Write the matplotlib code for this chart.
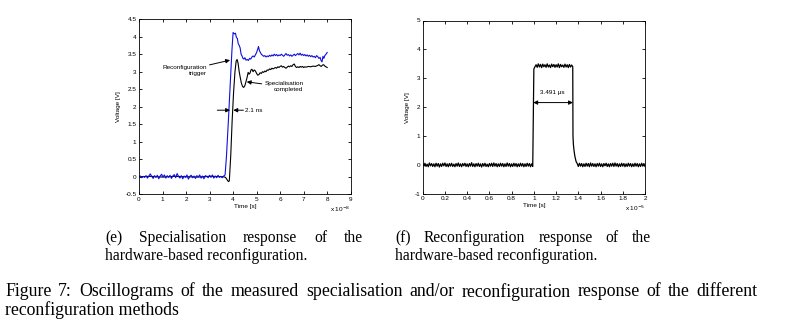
import numpy as np
import matplotlib
matplotlib.use("Agg")
import matplotlib.pyplot as plt

# ---------------- data: left panel (e) ----------------
blue_base_t = np.round(np.arange(0, 3.63, 0.06), 3)
blue_base_v = [0.00, 0.02, -0.03, 0.01, -0.02, 0.03, -0.04, 0.02, 0.08, 0.01,
               -0.05, 0.03, -0.02, 0.04, -0.06, 0.02, 0.07, -0.01, 0.05, -0.04,
               0.03, -0.02, 0.04, -0.05, 0.02, 0.06, -0.03, 0.09, 0.01, -0.04,
               0.03, -0.06, 0.02, -0.02, 0.05, -0.07, 0.01, 0.04, -0.03, 0.02,
               -0.05, 0.03, -0.01, 0.05, -0.04, 0.02, -0.06, 0.03, 0.01, -0.03,
               0.04, -0.02, 0.05, -0.04, 0.02, -0.03, 0.04, -0.02, 0.01, -0.03, 0.02]
blue_rest = [(3.66, 0.05), (3.72, 0.6), (3.8, 1.6), (3.88, 2.7), (3.95, 3.6), (4.0, 4.12),
             (4.05, 4.08), (4.1, 4.1), (4.14, 3.98), (4.18, 3.95), (4.22, 3.8), (4.26, 3.75),
             (4.3, 3.68), (4.34, 3.5), (4.38, 3.45), (4.42, 3.38), (4.46, 3.36), (4.5, 3.4),
             (4.55, 3.33), (4.6, 3.35), (4.65, 3.32), (4.7, 3.38), (4.75, 3.36), (4.8, 3.42),
             (4.85, 3.45), (4.9, 3.42), (4.95, 3.48), (5.0, 3.55), (5.05, 3.65), (5.08, 3.72),
             (5.12, 3.6), (5.16, 3.55), (5.2, 3.5), (5.25, 3.47), (5.3, 3.44), (5.35, 3.46),
             (5.4, 3.42), (5.45, 3.45), (5.5, 3.43), (5.55, 3.47), (5.6, 3.44), (5.65, 3.48),
             (5.7, 3.45), (5.75, 3.5), (5.8, 3.46), (5.85, 3.49), (5.9, 3.45), (5.95, 3.48),
             (6.0, 3.46), (6.05, 3.5), (6.1, 3.47), (6.15, 3.44), (6.2, 3.48), (6.25, 3.52),
             (6.3, 3.47), (6.35, 3.49), (6.4, 3.45), (6.45, 3.48), (6.5, 3.44), (6.55, 3.47),
             (6.6, 3.5), (6.65, 3.46), (6.7, 3.49), (6.75, 3.52), (6.8, 3.48), (6.85, 3.53),
             (6.9, 3.47), (6.95, 3.5), (7.0, 3.46), (7.05, 3.49), (7.1, 3.45), (7.15, 3.48),
             (7.2, 3.44), (7.25, 3.47), (7.3, 3.43), (7.35, 3.46), (7.4, 3.42), (7.45, 3.44),
             (7.5, 3.4), (7.55, 3.46), (7.6, 3.43), (7.65, 3.38), (7.7, 3.41), (7.74, 3.32),
             (7.78, 3.28), (7.82, 3.44), (7.86, 3.38), (7.9, 3.46), (7.95, 3.5), (8.0, 3.55)]

black_pts = [(0.0, 0.0), (0.5, 0.01), (1.0, -0.01), (1.5, 0.01), (2.0, 0.0), (2.5, -0.01),
             (3.0, 0.01), (3.6, 0.0), (3.68, -0.02), (3.74, -0.08), (3.8, -0.14), (3.84, -0.12),
             (3.9, 0.6), (3.96, 1.6), (4.02, 2.4), (4.08, 3.0), (4.13, 3.3), (4.17, 3.35),
             (4.21, 3.25), (4.26, 3.0), (4.3, 2.85), (4.35, 2.68), (4.4, 2.58), (4.45, 2.55),
             (4.5, 2.6), (4.55, 2.72), (4.6, 2.85), (4.64, 2.98), (4.68, 2.93), (4.72, 2.96),
             (4.76, 3.05), (4.8, 3.07), (4.85, 3.0), (4.9, 3.05), (4.95, 3.02), (5.0, 2.95),
             (5.05, 2.9), (5.1, 2.92), (5.15, 2.97), (5.2, 2.95), (5.25, 3.0), (5.3, 2.98),
             (5.35, 3.02), (5.4, 3.0), (5.45, 3.05), (5.5, 3.04), (5.55, 3.08), (5.6, 3.06),
             (5.65, 3.1), (5.7, 3.08), (5.75, 3.1), (5.8, 3.12), (5.85, 3.1), (5.9, 3.14),
             (5.95, 3.12), (6.0, 3.15), (6.05, 3.17), (6.1, 3.13), (6.15, 3.15), (6.2, 3.12),
             (6.25, 3.1), (6.3, 3.13), (6.35, 3.16), (6.4, 3.14), (6.45, 3.17), (6.5, 3.15),
             (6.55, 3.2), (6.6, 3.22), (6.65, 3.15), (6.7, 3.12), (6.75, 3.14), (6.8, 3.12),
             (6.85, 3.15), (6.9, 3.13), (6.95, 3.15), (7.0, 3.12), (7.05, 3.14), (7.1, 3.13),
             (7.2, 3.15), (7.3, 3.14), (7.4, 3.16), (7.5, 3.15), (7.6, 3.18), (7.65, 3.2),
             (7.7, 3.17), (7.75, 3.15), (7.8, 3.19), (7.85, 3.2), (7.9, 3.16), (7.95, 3.14),
             (8.0, 3.12)]

left_xticks = [0, 1, 2, 3, 4, 5, 6, 7, 8, 9]
left_yticks = [-0.5, 0, 0.5, 1, 1.5, 2, 2.5, 3, 3.5, 4, 4.5]
left_yticklabels = ['-0.5', '0', '0.5', '1', '1.5', '2', '2.5', '3', '3.5', '4', '4.5']

# ---------------- data: right panel (f) ----------------
r_base1_t = np.round(np.arange(0, 1.0, 0.01), 3)
r_base1_v = [0.05, -0.04, 0.06, -0.05, 0.03, -0.06, 0.07, -0.03, 0.05, -0.05,
             0.04, -0.06, 0.06, -0.04, 0.05, -0.07, 0.04, -0.05, 0.06, -0.03,
             0.07, -0.05, 0.04, -0.06, 0.05, -0.04, 0.06, -0.05, 0.03, -0.06,
             0.05, -0.04, 0.07, -0.05, 0.04, -0.06, 0.05, -0.03, 0.06, -0.05,
             0.04, -0.06, 0.05, -0.04, 0.08, -0.05, 0.04, -0.06, 0.05, -0.04,
             0.06, -0.05, 0.04, -0.07, 0.05, -0.04, 0.06, -0.05, 0.03, -0.06,
             0.05, -0.04, 0.06, -0.05, 0.07, -0.04, 0.05, -0.06, 0.04, -0.05,
             0.06, -0.04, 0.05, -0.06, 0.04, -0.05, 0.07, -0.04, 0.05, -0.06,
             0.04, -0.05, 0.06, -0.04, 0.05, -0.06, 0.04, -0.05, 0.06, -0.04,
             0.05, -0.06, 0.04, -0.05, 0.06, -0.04, 0.05, -0.06, 0.04, -0.05]
r_top_t = np.round(np.arange(1.0, 1.355, 0.01), 3)
r_top_v = [3.32, 3.40, 3.47, 3.38, 3.50, 3.39, 3.48, 3.37, 3.49, 3.40,
           3.47, 3.38, 3.50, 3.39, 3.46, 3.37, 3.49, 3.40, 3.48, 3.38,
           3.47, 3.39, 3.50, 3.37, 3.48, 3.40, 3.46, 3.38, 3.49, 3.39,
           3.47, 3.37, 3.48, 3.39, 3.46, 3.40]
r_tail = [(1.352, 1.0), (1.356, 0.7), (1.361, 0.52), (1.367, 0.35), (1.372, 0.25),
          (1.38, 0.12), (1.39, 0.05)]
r_base2_t = np.round(np.arange(1.40, 2.005, 0.01), 3)
r_base2_v = [-0.05, 0.06, -0.04, 0.05, -0.06, 0.04, -0.05, 0.06, -0.04, 0.05,
             -0.06, 0.07, -0.04, 0.05, -0.05, 0.04, -0.06, 0.05, -0.04, 0.06,
             -0.05, 0.04, -0.06, 0.05, -0.03, 0.06, -0.05, 0.04, -0.06, 0.05,
             -0.04, 0.06, -0.05, 0.07, -0.04, 0.05, -0.06, 0.04, -0.05, 0.06,
             -0.04, 0.05, -0.06, 0.04, -0.05, 0.06, -0.04, 0.05, -0.06, 0.04,
             -0.05, 0.06, -0.04, 0.05, -0.06, 0.04, -0.05, 0.06, -0.04, 0.05, -0.05]

right_xticks = [0, 0.2, 0.4, 0.6, 0.8, 1, 1.2, 1.4, 1.6, 1.8, 2]
right_xticklabels = ['0', '0.2', '0.4', '0.6', '0.8', '1', '1.2', '1.4', '1.6', '1.8', '2']
right_yticks = [-1, 0, 1, 2, 3, 4, 5]
right_yticklabels = ['-1', '0', '1', '2', '3', '4', '5']

# ---------------- figure ----------------
W, H = 793, 323
fig = plt.figure(figsize=(W / 100, H / 100), dpi=100)
fig.patch.set_facecolor('white')

SANS = ['Liberation Sans', 'DejaVu Sans']
SERIF = ['Liberation Serif', 'DejaVu Serif']
TFS = 4.6


def px_rect(l, t, r, b):
    return [l / W, 1 - b / H, (r - l) / W, (b - t) / H]


def style_axes(ax):
    ax.tick_params(direction='in', length=2.5, width=0.6, top=True, right=True,
                   labelsize=TFS, pad=1.8)
    for s in ax.spines.values():
        s.set_linewidth(0.6)
    for lab in ax.get_xticklabels() + ax.get_yticklabels():
        lab.set_family(SANS)


# left axes
axL = fig.add_axes(px_rect(139, 19.2, 350.7, 194.2))
bt = [p[0] for p in black_pts]
bv = [p[1] for p in black_pts]
axL.plot(bt, bv, color='black', lw=0.8)
blue_t = list(blue_base_t) + [p[0] for p in blue_rest]
blue_v = list(blue_base_v) + [p[1] for p in blue_rest]
axL.plot(blue_t, blue_v, color='#1010e0', lw=0.8)
axL.set_xlim(0, 9)
axL.set_ylim(-0.5, 4.5)
axL.set_xticks(left_xticks)
axL.set_yticks(left_yticks)
axL.set_yticklabels(left_yticklabels)
axL.set_xlabel('Time [s]', fontsize=TFS, family=SANS, labelpad=1.5)
axL.set_ylabel('Voltage [V]', fontsize=TFS, family=SANS, labelpad=3)
style_axes(axL)
axL.text(1.0, -0.058, r'x 10$^{-8}$', transform=axL.transAxes, ha='right', va='top',
         fontsize=TFS, family=SANS)

ap = dict(arrowstyle='-|>', color='black', lw=0.7, mutation_scale=6, shrinkA=0, shrinkB=0)
axL.annotate('Reconfiguration\ntrigger', xy=(3.87, 3.33), xytext=(2.88, 3.03),
             ha='right', va='center', multialignment='right', fontsize=TFS, family=SANS,
             arrowprops=ap, linespacing=1.2)
axL.annotate('Specialisation\ncompleted', xy=(4.58, 2.71), xytext=(5.33, 2.57),
             ha='left', va='center', multialignment='right', fontsize=TFS, family=SANS,
             arrowprops=ap, linespacing=1.2)
axL.annotate('', xy=(3.87, 1.9), xytext=(3.33, 1.9), arrowprops=ap)
axL.annotate('', xy=(4.01, 1.9), xytext=(4.44, 1.9), arrowprops=ap)
axL.text(4.52, 1.9, '2.1 ns', ha='left', va='center', fontsize=TFS, family=SANS)

# right axes
axR = fig.add_axes(px_rect(422.7, 20.5, 645, 193.9))
rt = list(r_base1_t) + list(r_top_t) + [p[0] for p in r_tail] + list(r_base2_t)
rv = list(r_base1_v) + list(r_top_v) + [p[1] for p in r_tail] + list(r_base2_v)
axR.plot(rt, rv, color='black', lw=0.9)
axR.set_xlim(0, 2)
axR.set_ylim(-1, 5)
axR.set_xticks(right_xticks)
axR.set_xticklabels(right_xticklabels)
axR.set_yticks(right_yticks)
axR.set_yticklabels(right_yticklabels)
axR.set_xlabel('Time [s]', fontsize=TFS, family=SANS, labelpad=1.5)
axR.set_ylabel('Voltage [V]', fontsize=TFS, family=SANS, labelpad=3)
style_axes(axR)
axR.text(1.0, -0.058, r'x 10$^{-5}$', transform=axR.transAxes, ha='right', va='top',
         fontsize=TFS, family=SANS)
ap2 = dict(arrowstyle='<|-|>', color='black', lw=0.7, mutation_scale=6, shrinkA=0, shrinkB=0)
axR.annotate('', xy=(0.995, 2.16), xytext=(1.352, 2.16), arrowprops=ap2)
axR.text(1.165, 2.5, '3.491 μs', ha='center', va='center', fontsize=TFS, family=SANS)

# ---------------- captions ----------------
renderer = fig.canvas.get_renderer()


def justify(words, x0, x1, y, fs):
    objs = [fig.text(0, 1 - y / H, w, fontsize=fs, family=SERIF, va='center', ha='left')
            for w in words]
    widths = [o.get_window_extent(renderer).width for o in objs]
    gap = (x1 - x0 - sum(widths)) / (len(words) - 1)
    x = x0
    for o, wd in zip(objs, widths):
        o.set_x(x / W)
        x += wd + gap


def ftext(x, y, s, fs):
    fig.text(x / W, 1 - y / H, s, fontsize=fs, family=SERIF, va='center', ha='left')


CFS = 11.2
FFS = 12.8
justify(['(e)', 'Specialisation', 'response', 'of', 'the'], 105, 363, 238, CFS)
ftext(105, 256, 'hardware-based reconfiguration.', CFS)
justify(['(f)', 'Reconfiguration', 'response', 'of', 'the'], 395, 651, 238, CFS)
ftext(395, 256, 'hardware-based reconfiguration.', CFS)
justify('Figure 7:  Oscillograms of the measured specialisation and/or reconfiguration '
        'response of the different'.split(), 5, 758, 292, FFS)
ftext(5, 310, 'reconfiguration methods', FFS)

fig.savefig('out.png', dpi=100, facecolor='white')
